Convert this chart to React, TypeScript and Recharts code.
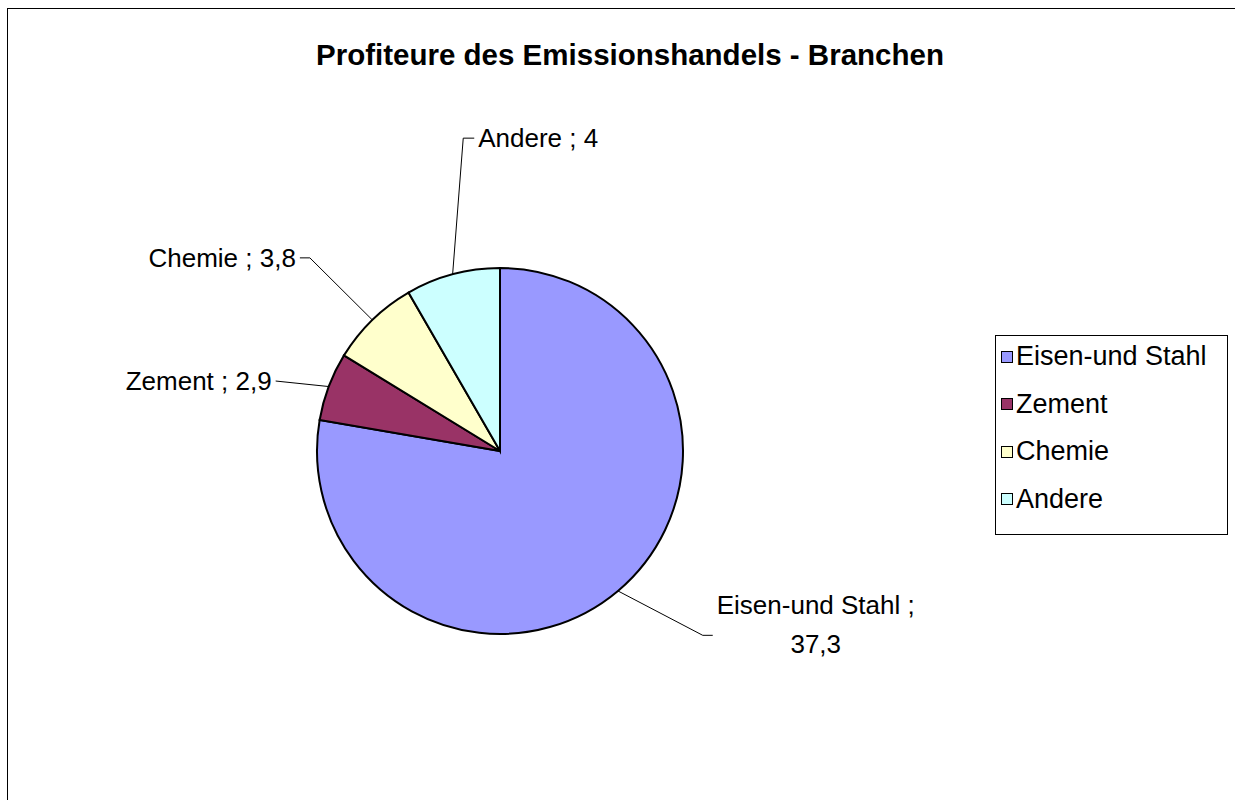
import React from 'react';
import { PieChart, Pie, Cell, Legend } from 'recharts';

const categories = ['Eisen-und Stahl', 'Zement', 'Chemie', 'Andere'];
const values = [37.3, 2.9, 3.8, 4];
const colors = ['#9999FF', '#993366', '#FFFFCC', '#CCFFFF'];
const title = 'Profiteure des Emissionshandels - Branchen';

const data = categories.map((name, i) => ({ name, value: values[i] }));

// label layout (style only)
const LABEL_DIST = [91, 52, 88, 132];
const LABEL_TURN = [7.6, 3.3, 0.3, -8.3];
const LABEL_ARM = [10, 0, 10, 11];
const LABEL_SIDE = [1, -1, -1, 1];

const FONT = '"Liberation Sans", Arial, sans-serif';
const RAD = Math.PI / 180;

const fmt = (v: number) => String(v).replace('.', ',');

function renderLabel(props: any) {
  const { cx, cy, midAngle, outerRadius, index, name, value } = props;
  const x0 = cx + outerRadius * Math.cos(-midAngle * RAD);
  const y0 = cy + outerRadius * Math.sin(-midAngle * RAD);
  const a = midAngle + LABEL_TURN[index];
  const r = outerRadius + LABEL_DIST[index];
  const x1 = cx + r * Math.cos(-a * RAD);
  const y1 = cy + r * Math.sin(-a * RAD);
  const side = LABEL_SIDE[index];
  const x2 = x1 + side * LABEL_ARM[index];
  const tx = x2 + side * 4;
  const common = { fontFamily: FONT, fontSize: 26, fill: '#000' };
  let text;
  if (index === 0) {
    text = (
      <text x={tx + 100} y={y1} textAnchor="middle" {...common}>
        <tspan x={tx + 99} y={y1 - 30} dominantBaseline="central">{`${name} ;`}</tspan>
        <tspan x={tx + 99} y={y1 + 9} dominantBaseline="central">{fmt(value)}</tspan>
      </text>
    );
  } else {
    text = (
      <text x={tx} y={y1} textAnchor={side > 0 ? 'start' : 'end'} dominantBaseline="central" {...common}>
        {`${name} ; ${fmt(value)}`}
      </text>
    );
  }
  return (
    <g key={`lbl-${index}`}>
      <polyline points={`${x0},${y0} ${x1},${y1} ${x2},${y1}`} fill="none" stroke="#000" strokeWidth={1} />
      {text}
    </g>
  );
}

function LegendBox() {
  return (
    <div
      style={{
        width: 233,
        height: 200,
        boxSizing: 'border-box',
        border: '1px solid #000',
        background: '#fff',
        fontFamily: FONT,
        fontSize: 27,
        paddingTop: 0,
      }}
    >
      {categories.map((c, i) => (
        <div key={c} style={{ height: 47.5, marginTop: i === 0 ? -3 : 0, display: 'flex', alignItems: 'center', paddingLeft: 5 }}>
          <span
            style={{
              display: 'inline-block',
              width: 10,
              height: 10,
              background: colors[i],
              border: '1px solid #000',
              marginRight: 3,
            }}
          />
          <span style={{ lineHeight: 1 }}>{c}</span>
        </div>
      ))}
    </div>
  );
}

export default function App() {
  return (
    <div style={{ position: 'relative', width: 1235, height: 800, overflow: 'hidden', background: '#fff' }}>
      <style>{`body{margin:0;overflow:hidden;}`}</style>
      <div
        style={{
          position: 'absolute',
          left: 7,
          top: 8,
          width: 1300,
          height: 900,
          borderLeft: '1.5px solid #000',
          borderTop: '1.5px solid #000',
        }}
      />
      <div
        style={{
          position: 'absolute',
          left: 0,
          width: 1260,
          top: 37,
          textAlign: 'center',
          fontFamily: FONT,
          fontWeight: 'bold',
          fontSize: 29.5,
          lineHeight: '36px',
        }}
      >
        {title}
      </div>
      <div style={{ position: 'absolute', left: 0, top: 0 }}>
        <PieChart width={1235} height={800} margin={{ top: 0, right: 0, bottom: 0, left: 0 }}>
          <Pie
            data={data}
            dataKey="value"
            nameKey="name"
            cx={500}
            cy={451}
            outerRadius={183}
            startAngle={90}
            endAngle={-270}
            stroke="#000"
            strokeWidth={2}
            label={renderLabel}
            labelLine={false}
            isAnimationActive={false}
          >
            {data.map((d, i) => (
              <Cell key={d.name} fill={colors[i]} />
            ))}
          </Pie>
          <Legend
            content={() => <LegendBox />}
            wrapperStyle={{ position: 'absolute', left: 995, top: 335, width: 233, height: 200 }}
          />
        </PieChart>
      </div>
    </div>
  );
}
